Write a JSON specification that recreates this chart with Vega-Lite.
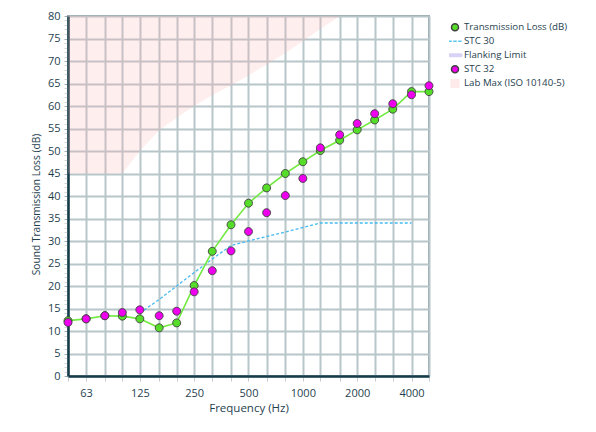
{
  "$schema": "https://vega.github.io/schema/vega-lite/v6.json",
  "width": 361,
  "height": 360,
  "autosize": {"type": "none"},
  "padding": {"left": 68, "top": 16, "right": 167, "bottom": 56},
  "background": "white",
  "config": {
    "font": "Open Sans",
    "view": {"stroke": "#8fa1a7", "strokeWidth": 2},
    "axis": {
      "labelFont": "Open Sans",
      "titleFont": "Open Sans",
      "labelColor": "#1f3f4f",
      "titleColor": "#1f3f4f",
      "labelFontSize": 11,
      "titleFontSize": 11.5,
      "titleFontWeight": "normal",
      "domainColor": "#143c4a",
      "domainWidth": 2.5,
      "gridWidth": 2,
      "labelFlush": false,
      "labelOverlap": false
    },
    "legend": {
      "title": null,
      "orient": "none",
      "legendX": 381,
      "legendY": 4.2,
      "padding": 0,
      "labelFont": "Open Sans",
      "labelFontSize": 9.7,
      "labelColor": "#1f3f4f",
      "symbolSize": 100,
      "clipHeight": 14,
      "rowPadding": 0.05,
      "labelOffset": 3
    }
  },
  "data": {
    "values": [
      {"freq": 50, "series": "Lab Max (ISO 10140-5)", "value": 45},
      {"freq": 63, "series": "Lab Max (ISO 10140-5)", "value": 45},
      {"freq": 80, "series": "Lab Max (ISO 10140-5)", "value": 45},
      {"freq": 100, "series": "Lab Max (ISO 10140-5)", "value": 45},
      {"freq": 125, "series": "Lab Max (ISO 10140-5)", "value": 50},
      {"freq": 160, "series": "Lab Max (ISO 10140-5)", "value": 54.6},
      {"freq": 200, "series": "Lab Max (ISO 10140-5)", "value": 57.4},
      {"freq": 250, "series": "Lab Max (ISO 10140-5)", "value": 60},
      {"freq": 315, "series": "Lab Max (ISO 10140-5)", "value": 62.4},
      {"freq": 400, "series": "Lab Max (ISO 10140-5)", "value": 64.6},
      {"freq": 500, "series": "Lab Max (ISO 10140-5)", "value": 66.8},
      {"freq": 630, "series": "Lab Max (ISO 10140-5)", "value": 69.2},
      {"freq": 800, "series": "Lab Max (ISO 10140-5)", "value": 71.8},
      {"freq": 1000, "series": "Lab Max (ISO 10140-5)", "value": 74.4},
      {"freq": 1250, "series": "Lab Max (ISO 10140-5)", "value": 77.1},
      {"freq": 1600, "series": "Lab Max (ISO 10140-5)", "value": 80},

      {"freq": 125, "series": "STC 30", "value": 14},
      {"freq": 160, "series": "STC 30", "value": 17},
      {"freq": 200, "series": "STC 30", "value": 20},
      {"freq": 250, "series": "STC 30", "value": 23},
      {"freq": 315, "series": "STC 30", "value": 26},
      {"freq": 400, "series": "STC 30", "value": 29},
      {"freq": 500, "series": "STC 30", "value": 30},
      {"freq": 630, "series": "STC 30", "value": 31},
      {"freq": 800, "series": "STC 30", "value": 32},
      {"freq": 1000, "series": "STC 30", "value": 33},
      {"freq": 1250, "series": "STC 30", "value": 34},
      {"freq": 1600, "series": "STC 30", "value": 34},
      {"freq": 2000, "series": "STC 30", "value": 34},
      {"freq": 2500, "series": "STC 30", "value": 34},
      {"freq": 3150, "series": "STC 30", "value": 34},
      {"freq": 4000, "series": "STC 30", "value": 34},

      {"freq": 50, "series": "Transmission Loss (dB)", "value": 12.3},
      {"freq": 63, "series": "Transmission Loss (dB)", "value": 12.7},
      {"freq": 80, "series": "Transmission Loss (dB)", "value": 13.4},
      {"freq": 100, "series": "Transmission Loss (dB)", "value": 13.3},
      {"freq": 125, "series": "Transmission Loss (dB)", "value": 12.7},
      {"freq": 160, "series": "Transmission Loss (dB)", "value": 10.7},
      {"freq": 200, "series": "Transmission Loss (dB)", "value": 11.8},
      {"freq": 250, "series": "Transmission Loss (dB)", "value": 20.1},
      {"freq": 315, "series": "Transmission Loss (dB)", "value": 27.7},
      {"freq": 400, "series": "Transmission Loss (dB)", "value": 33.6},
      {"freq": 500, "series": "Transmission Loss (dB)", "value": 38.4},
      {"freq": 630, "series": "Transmission Loss (dB)", "value": 41.8},
      {"freq": 800, "series": "Transmission Loss (dB)", "value": 45.0},
      {"freq": 1000, "series": "Transmission Loss (dB)", "value": 47.6},
      {"freq": 1250, "series": "Transmission Loss (dB)", "value": 50.1},
      {"freq": 1600, "series": "Transmission Loss (dB)", "value": 52.4},
      {"freq": 2000, "series": "Transmission Loss (dB)", "value": 54.7},
      {"freq": 2500, "series": "Transmission Loss (dB)", "value": 56.9},
      {"freq": 3150, "series": "Transmission Loss (dB)", "value": 59.3},
      {"freq": 4000, "series": "Transmission Loss (dB)", "value": 63.2},
      {"freq": 5000, "series": "Transmission Loss (dB)", "value": 63.2},

      {"freq": 50, "series": "STC 32", "value": 11.9},
      {"freq": 63, "series": "STC 32", "value": 12.7},
      {"freq": 80, "series": "STC 32", "value": 13.4},
      {"freq": 100, "series": "STC 32", "value": 14.1},
      {"freq": 125, "series": "STC 32", "value": 14.7},
      {"freq": 160, "series": "STC 32", "value": 13.4},
      {"freq": 200, "series": "STC 32", "value": 14.4},
      {"freq": 250, "series": "STC 32", "value": 18.7},
      {"freq": 315, "series": "STC 32", "value": 23.4},
      {"freq": 400, "series": "STC 32", "value": 27.8},
      {"freq": 500, "series": "STC 32", "value": 32.1},
      {"freq": 630, "series": "STC 32", "value": 36.3},
      {"freq": 800, "series": "STC 32", "value": 40.1},
      {"freq": 1000, "series": "STC 32", "value": 43.9},
      {"freq": 1250, "series": "STC 32", "value": 50.7},
      {"freq": 1600, "series": "STC 32", "value": 53.6},
      {"freq": 2000, "series": "STC 32", "value": 56.1},
      {"freq": 2500, "series": "STC 32", "value": 58.3},
      {"freq": 3150, "series": "STC 32", "value": 60.5},
      {"freq": 4000, "series": "STC 32", "value": 62.5},
      {"freq": 5000, "series": "STC 32", "value": 64.5}
    ]
  },
  "encoding": {
    "x": {
      "field": "freq",
      "type": "quantitative",
      "scale": {"type": "log", "domain": [50, 5000], "nice": false},
      "axis": {
        "title": "Frequency (Hz)",
        "values": [50, 63, 80, 100, 125, 160, 200, 250, 315, 400, 500, 630, 800, 1000, 1250, 1600, 2000, 2500, 3150, 4000, 5000],
        "labelExpr": "indexof([63, 125, 250, 500, 1000, 2000, 4000], datum.value) >= 0 ? toString(datum.value) : ''",
        "grid": true,
        "gridColor": "#b8c5c9",
        "tickColor": "#c5cdd0",
        "tickSize": 5,
        "labelPadding": 6,
        "titlePadding": 4
      }
    },
    "y": {
      "field": "value",
      "type": "quantitative",
      "scale": {"domain": [0, 80], "nice": false},
      "axis": {
        "title": "Sound Transmission Loss (dB)",
        "titleFontSize": 10.2,
        "titleY": 188,
        "titleX": -32,
        "titleAlign": "center",
        "titleBaseline": "middle",
        "titleAngle": 270,
        "values": [0,1,2,3,4,5,6,7,8,9,10,11,12,13,14,15,16,17,18,19,20,21,22,23,24,25,26,27,28,29,30,31,32,33,34,35,36,37,38,39,40,41,42,43,44,45,46,47,48,49,50,51,52,53,54,55,56,57,58,59,60,61,62,63,64,65,66,67,68,69,70,71,72,73,74,75,76,77,78,79,80],
        "labelExpr": "datum.value % 5 === 0 ? toString(datum.value) : ''",
        "grid": true,
        "gridColor": {"condition": {"test": "datum.value % 5 === 0", "value": "#b8c5c9"}, "value": "transparent"},
        "tickColor": {"condition": {"test": "datum.value % 5 === 0", "value": "#9fb0b5"}, "value": "#d0d7da"},
        "tickSize": 4,
        "labelPadding": 4
      }
    }
  },
  "layer": [
    {
      "transform": [{"filter": "datum.series === 'Lab Max (ISO 10140-5)'"}],
      "mark": {"type": "area", "color": "#ffb0b0", "opacity": 0.22},
      "encoding": {"y2": {"datum": 80}}
    },
    {
      "transform": [{"filter": "datum.series === 'STC 30'"}],
      "mark": {"type": "line", "color": "#45bbef", "strokeWidth": 1.3, "strokeDash": [3, 2]},
      "encoding": {}
    },
    {
      "transform": [{"filter": "datum.series === 'Transmission Loss (dB)'"}],
      "mark": {"type": "line", "color": "#72ea42", "strokeWidth": 1.6},
      "encoding": {}
    },
    {
      "transform": [{"filter": "datum.series === 'Transmission Loss (dB)' || datum.series === 'STC 32'"}],
      "mark": {"type": "point", "filled": true, "size": 130, "opacity": 1, "strokeWidth": 0.9},
      "encoding": {
        "color": {
          "field": "series",
          "type": "nominal",
          "scale": {
            "domain": ["Transmission Loss (dB)", "STC 30", "Flanking Limit", "STC 32", "Lab Max (ISO 10140-5)"],
            "range": ["#55dd2a", "#5cc6f2", "#d9d2f7", "#ee00ee", "#ffeaea"]
          },
          "legend": {
            "title": null,
            "labelExpr": "datum.value === 'STC 32' ? '\u00a0STC 32' : datum.label"
          }
        },
        "shape": {
          "field": "series",
          "type": "nominal",
          "scale": {
            "domain": ["Transmission Loss (dB)", "STC 30", "Flanking Limit", "STC 32", "Lab Max (ISO 10140-5)"],
            "range": [
              "M0.7,0A0.7,0.7 0 1,1 -0.7,0A0.7,0.7 0 1,1 0.7,0Z",
              "M-1.33,-0.15H-0.63V0.15H-1.33Z M-0.35,-0.15H0.35V0.15H-0.35Z M0.63,-0.15H1.33V0.15H0.63Z",
              "M-1.13,-0.4H1.13A0.4,0.4 0 0 1 1.13,0.4H-1.13A0.4,0.4 0 0 1 -1.13,-0.4Z",
              "M0.7,0A0.7,0.7 0 1,1 -0.7,0A0.7,0.7 0 1,1 0.7,0Z",
              "M-0.9,-0.9H0.9V0.9H-0.9Z"
            ]
          },
          "legend": {
            "title": null,
            "labelExpr": "datum.value === 'STC 32' ? '\u00a0STC 32' : datum.label"
          }
        },
        "stroke": {
          "field": "series",
          "type": "nominal",
          "scale": {
            "domain": ["Transmission Loss (dB)", "STC 30", "Flanking Limit", "STC 32", "Lab Max (ISO 10140-5)"],
            "range": ["#404040", "transparent", "transparent", "#404040", "transparent"]
          },
          "legend": {
            "title": null,
            "labelExpr": "datum.value === 'STC 32' ? '\u00a0STC 32' : datum.label"
          }
        }
      }
    }
  ]
}
